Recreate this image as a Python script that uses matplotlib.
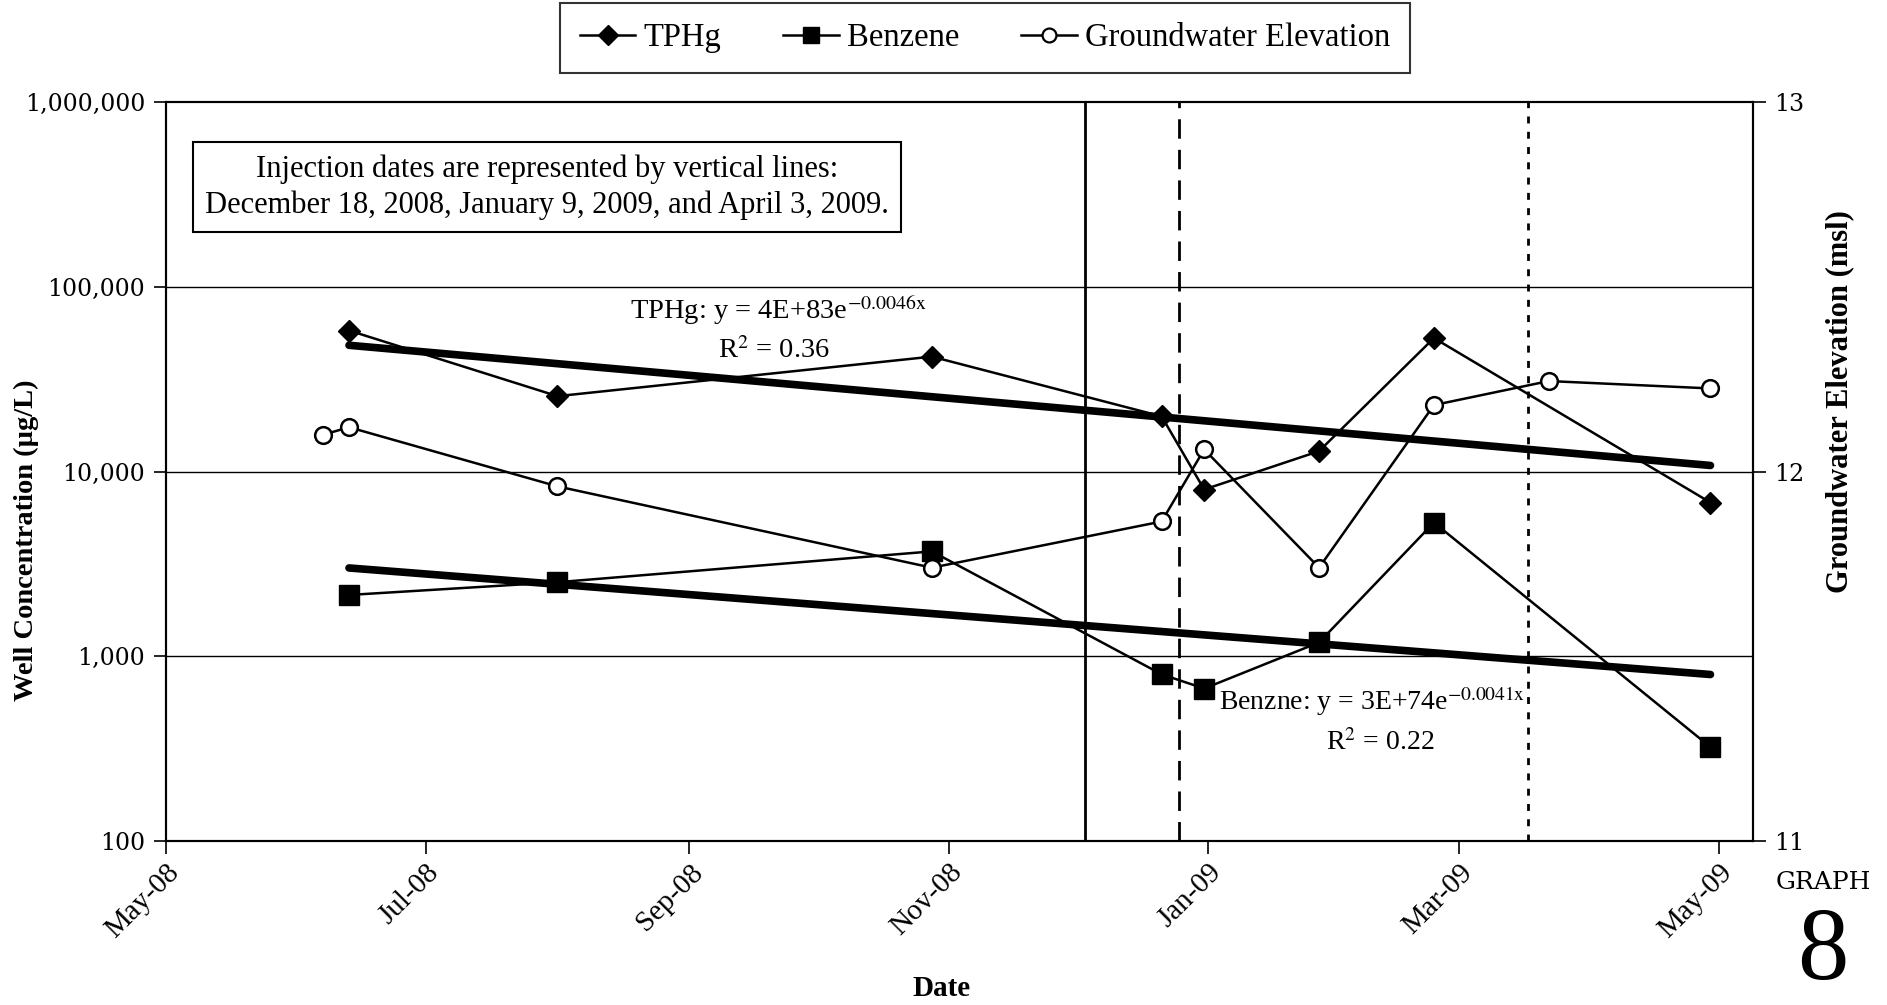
import datetime
import numpy as np
import matplotlib
matplotlib.use("Agg")
import matplotlib.pyplot as plt
import matplotlib.dates as mdates
import matplotlib.ticker as ticker
from matplotlib.lines import Line2D

plt.rcParams["font.family"] = ["Liberation Serif", "DejaVu Serif"]
plt.rcParams["mathtext.fontset"] = "stix"

d = datetime.datetime

# Sampling events (TPHg and benzene share dates)
sample_dates = [d(2008, 6, 13), d(2008, 8, 1), d(2008, 10, 28), d(2008, 12, 21),
                d(2008, 12, 31), d(2009, 1, 27), d(2009, 2, 23), d(2009, 4, 29)]
tphg = [58000, 25600, 41900, 19900, 8000, 12900, 52800, 6800]
benzene = [2150, 2520, 3700, 800, 670, 1190, 5300, 323]

# Groundwater gauging
gw_dates = [d(2008, 6, 7), d(2008, 6, 13), d(2008, 8, 1), d(2008, 10, 28), d(2008, 12, 21),
            d(2008, 12, 31), d(2009, 1, 27), d(2009, 2, 23), d(2009, 3, 22), d(2009, 4, 29)]
gw_elev = [12.10, 12.12, 11.96, 11.74, 11.865, 12.06, 11.74, 12.18, 12.245, 12.225]

# Injection event lines
injection_dates = [d(2008, 12, 3), d(2008, 12, 25), d(2009, 3, 17)]
injection_styles = ["-", (0, (7, 4)), (0, (2.5, 3))]

x_ticks = [d(2008, 5, 1), d(2008, 7, 1), d(2008, 9, 1), d(2008, 11, 1),
           d(2009, 1, 1), d(2009, 3, 1), d(2009, 5, 1)]
y_ticks = [100, 1000, 10000, 100000, 1000000]
y2_ticks = [11, 12, 13]


def exp_fit(dates, values):
    # exponential trendline: least squares on ln(y)
    x = mdates.date2num(dates)
    ly = np.log(values)
    b, a = np.polyfit(x, ly, 1)
    r2 = np.corrcoef(x, ly)[0, 1] ** 2
    xx = np.array([x[0], x[-1]])
    return xx, np.exp(a + b * xx), r2


fig = plt.figure(figsize=(18.87, 10.05), dpi=100)
ax = fig.add_axes([0.088, 0.163, 0.841, 0.7355])
ax2 = ax.twinx()

ax.set_yscale("log")
ax.set_ylim(100, 1000000)
ax.set_xlim(d(2008, 5, 1), d(2009, 5, 9))
ax2.set_ylim(11, 13)

for yv in [1000, 10000, 100000]:
    ax.axhline(yv, color="black", lw=1.0, zorder=1)

for dt, ls in zip(injection_dates, injection_styles):
    ax.axvline(dt, color="black", lw=2.0, linestyle=ls, zorder=2)

# trendlines
tx, ty, r2_t = exp_fit(sample_dates, tphg)
ax.plot(tx, ty, color="black", lw=5.5, solid_capstyle="round", zorder=3)
bx, by, r2_b = exp_fit(sample_dates, benzene)
ax.plot(bx, by, color="black", lw=5.5, solid_capstyle="round", zorder=3)

ax.plot(sample_dates, tphg, color="black", lw=1.8, marker="D", ms=11, zorder=4)
ax.plot(sample_dates, benzene, color="black", lw=1.8, marker="s", ms=14, zorder=4)
ax2.plot(gw_dates, gw_elev, color="black", lw=1.8, marker="o", ms=12,
         mfc="white", mec="black", mew=1.8, zorder=4)

# axes styling
ax.set_xticks(x_ticks)
ax.xaxis.set_major_formatter(mdates.DateFormatter("%b-%y"))
ax.set_yticks(y_ticks)
ax.yaxis.set_minor_locator(ticker.NullLocator())
ax.yaxis.set_major_formatter(ticker.FuncFormatter(lambda v, p: "{:,.0f}".format(v)))
ax2.set_yticks(y2_ticks)
for a in (ax, ax2):
    a.tick_params(axis="both", direction="out", length=9, width=1.2, colors="black")
    for sp in a.spines.values():
        sp.set_linewidth(1.5)
ax.tick_params(axis="x", labelsize=21, labelrotation=45, pad=4)
plt.setp(ax.get_xticklabels(), ha="right", rotation_mode="anchor")
ax.tick_params(axis="y", labelsize=17, pad=6)
ax2.tick_params(axis="y", labelsize=17, pad=6)
plt.setp(ax.get_yticklabels() + ax2.get_yticklabels(), family="DejaVu Serif")

fig.text(0.0138, 0.462, "Well Concentration (\u00b5g/L)", rotation=90, fontsize=20.5,
         fontweight="bold", ha="center", va="center")
fig.text(0.975, 0.600, "Groundwater Elevation (msl)", rotation=90, fontsize=22,
         fontweight="bold", ha="center", va="center")
fig.text(0.499, 0.016, "Date", fontsize=21, fontweight="bold", ha="center", va="center")

# trendline equations
ax.text(0.386, 0.7185, "TPHg: y = 4E+83e$^{\\mathrm{-0.0046x}}$", transform=ax.transAxes,
        fontsize=20.5, ha="center", va="center")
ax.text(0.383, 0.664, "R$^{\\mathrm{2}}$ = %.2f" % r2_t, transform=ax.transAxes,
        fontsize=20.5, ha="center", va="center")
ax.text(0.760, 0.190, "Benzne: y = 3E+74e$^{\\mathrm{-0.0041x}}$", transform=ax.transAxes,
        fontsize=20, ha="center", va="center")
ax.text(0.765, 0.134, "R$^{\\mathrm{2}}$ = %.2f" % r2_b, transform=ax.transAxes,
        fontsize=20, ha="center", va="center")

ax.text(0.240, 0.885,
        "Injection dates are represented by vertical lines:\n"
        "December 18, 2008, January 9, 2009, and April 3, 2009.",
        transform=ax.transAxes, fontsize=22, ha="center", va="center", linespacing=1.3,
        bbox=dict(boxstyle="square,pad=0.4", fc="white", ec="black", lw=1.5), zorder=6)

handles = [
    Line2D([], [], color="black", lw=1.8, marker="D", ms=10),
    Line2D([], [], color="black", lw=1.8, marker="s", ms=11),
    Line2D([], [], color="black", lw=1.8, marker="o", ms=10, mfc="white", mew=1.6),
]
leg = fig.legend(handles, ["TPHg", "Benzene", "Groundwater Elevation"], loc="center",
                 bbox_to_anchor=(0.522, 0.962), ncol=3, fontsize=23.5, frameon=True,
                 fancybox=False, edgecolor="black", handlelength=1.7, columnspacing=1.9,
                 handletextpad=0.25, borderpad=0.6)
leg.get_frame().set_linewidth(1.5)

fig.text(0.966, 0.122, "GRAPH", fontsize=18, ha="center", va="center",
         family="DejaVu Serif")
fig.text(0.966, 0.004, "8", fontsize=74, ha="center", va="bottom")

fig.savefig("out.png", dpi=100)
